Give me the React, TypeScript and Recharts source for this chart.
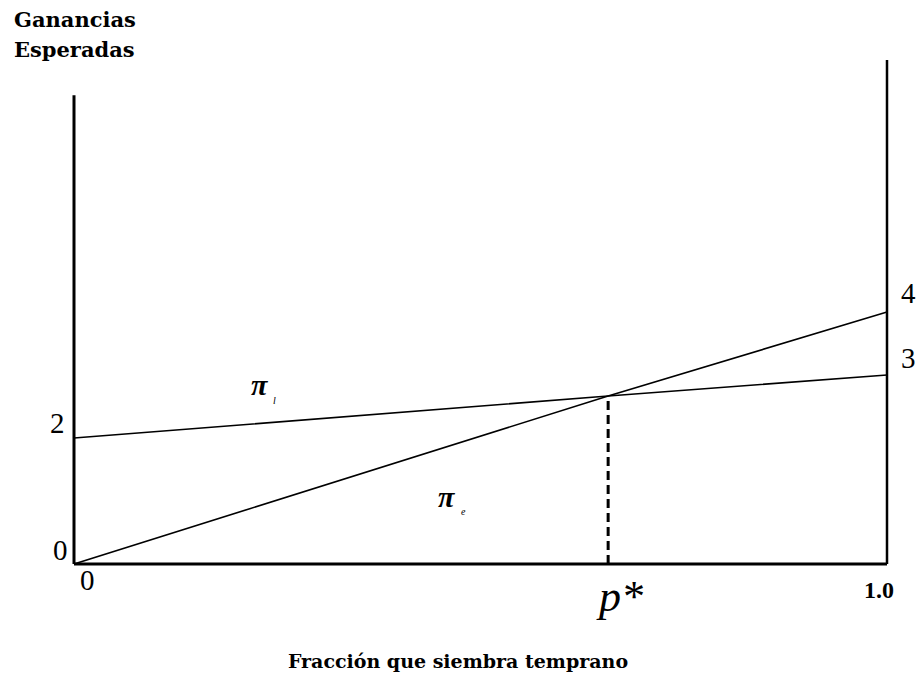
import { LineChart, Line, XAxis, YAxis, ReferenceLine } from "recharts";

// fracción que siembra temprano (0 .. 1), con p* en el cruce
const shares = [0, 0.657, 1];
// ganancias esperadas de sembrar tarde (π_l) y temprano (π_e)
const piLate = [2, 2.667, 3];
const piEarly = [0, 2.667, 4];

const pStar = 0.657;
const pStarValue = 2.667;
const leftAxisTop = 7.44;
const rightAxisTop = 8;

const data = shares.map((p, i) => ({ p, late: piLate[i], early: piEarly[i] }));

const serif = "'Liberation Serif', 'DejaVu Serif', serif";
const wideSerif = "'DejaVu Serif', 'Liberation Serif', serif";

export default function App() {
  return (
    <div style={{ position: "absolute", left: 0, top: 0, width: 919, height: 679, background: "#fff" }}>
      <LineChart
        width={919}
        height={679}
        data={data}
        margin={{ top: 60, right: 32, bottom: 115, left: 74 }}
      >
        <XAxis type="number" dataKey="p" domain={[0, 1]} hide />
        <YAxis type="number" domain={[0, 8]} hide allowDataOverflow />
        <ReferenceLine
          segment={[{ x: 0, y: 0 }, { x: 0, y: leftAxisTop }]}
          stroke="#000"
          strokeWidth={3}
          ifOverflow="visible"
        />
        <ReferenceLine
          segment={[{ x: 1, y: 0 }, { x: 1, y: rightAxisTop }]}
          stroke="#000"
          strokeWidth={2.5}
          ifOverflow="visible"
        />
        <ReferenceLine
          segment={[{ x: 0, y: 0 }, { x: 1, y: 0 }]}
          stroke="#000"
          strokeWidth={3}
          ifOverflow="visible"
        />
        <ReferenceLine
          segment={[{ x: pStar, y: 0 }, { x: pStar, y: pStarValue }]}
          stroke="#000"
          strokeWidth={3}
          strokeDasharray="9 5"
          ifOverflow="visible"
        />
        <Line
          dataKey="late"
          type="linear"
          stroke="#000"
          strokeWidth={1.6}
          dot={false}
          isAnimationActive={false}
        />
        <Line
          dataKey="early"
          type="linear"
          stroke="#000"
          strokeWidth={1.6}
          dot={false}
          isAnimationActive={false}
        />
      </LineChart>
      <svg
        width={919}
        height={679}
        style={{ position: "absolute", left: 0, top: 0, pointerEvents: "none" }}
        fontFamily={serif}
        fill="#000"
      >
        <text x={14} y={27} fontSize={21} fontWeight="bold" fontFamily={wideSerif}>Ganancias</text>
        <text x={14} y={57} fontSize={21} fontWeight="bold" fontFamily={wideSerif}>Esperadas</text>
        <text x={50} y={433} fontSize={29}>2</text>
        <text x={53} y={560} fontSize={29}>0</text>
        <text x={80} y={590} fontSize={29}>0</text>
        <text x={901} y={303} fontSize={29}>4</text>
        <text x={901} y={368} fontSize={29}>3</text>
        <text x={864} y={598} fontSize={24} fontWeight="bold">1.0</text>
        <text x={599} y={611} fontSize={44} fontStyle="italic">p*</text>
        <text x={251} y={395} fontSize={30} fontStyle="italic" fontWeight="bold">π</text>
        <text x={273} y={404} fontSize={10} fontStyle="italic">l</text>
        <text x={438} y={507} fontSize={30} fontStyle="italic" fontWeight="bold">π</text>
        <text x={461} y={515} fontSize={10} fontStyle="italic">e</text>
        <text x={458} y={668} fontSize={19} fontWeight="bold" fontFamily={wideSerif} textAnchor="middle">
          Fracción que siembra temprano
        </text>
      </svg>
    </div>
  );
}
